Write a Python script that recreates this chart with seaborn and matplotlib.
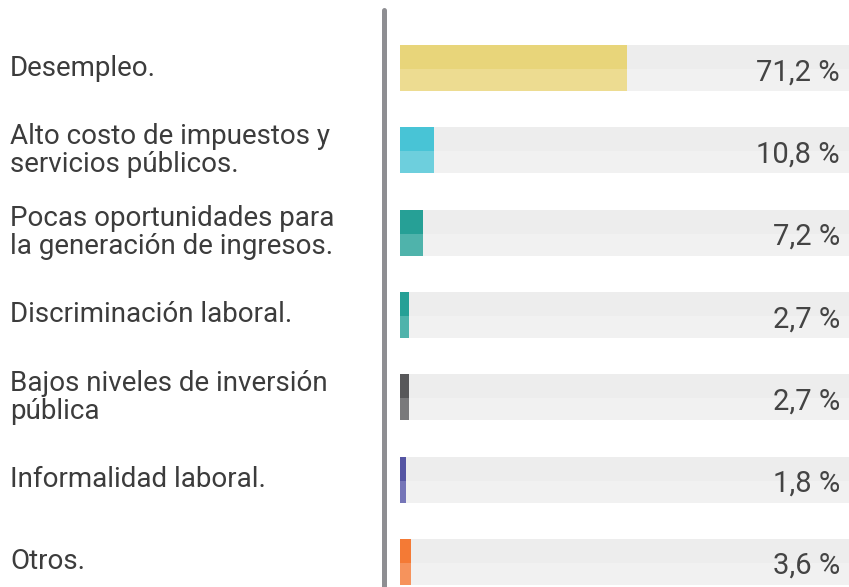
import matplotlib
matplotlib.use("Agg")
import matplotlib.pyplot as plt
import seaborn as sns
import pandas as pd
from matplotlib.lines import Line2D
from matplotlib.transforms import blended_transform_factory

# Datos
causas = [
    "Desempleo.",
    "Alto costo de impuestos y\nservicios públicos.",
    "Pocas oportunidades para\nla generación de ingresos.",
    "Discriminación laboral.",
    "Bajos niveles de inversión\npública",
    "Informalidad laboral.",
    "Otros.",
]
porcentajes = [71.2, 10.8, 7.2, 2.7, 2.7, 1.8, 3.6]
etiquetas = ["71,2 %", "10,8 %", "7,2 %", "2,7 %", "2,7 %", "1,8 %", "3,6 %"]
colores_osc = ["#E8D57A", "#48C4D6", "#26A096", "#26A096", "#58585A", "#5555A3", "#F47A35"]
colores_cla = ["#EDDC91", "#6DCFDD", "#4FB3AB", "#4FB3AB", "#79797B", "#7575B8", "#F6935C"]

sns.set_style("white")
plt.rcParams["font.family"] = ["Roboto", "DejaVu Sans"]

df = pd.DataFrame({"causa": causas, "pct": porcentajes})
xmax = 140.8
alto = 0.56
n = len(causas)

fig = plt.figure(figsize=(8.49, 5.87), dpi=100)
ax = fig.add_axes([400 / 849, 0, 449 / 849, 1])

# fondo gris de cada fila
df["fondo"] = xmax
sns.barplot(data=df, y="causa", x="fondo", orient="h", color="#F1F1F1",
            width=alto, ax=ax, saturation=1, linewidth=0)
ax.barh([i - alto / 2 for i in range(n)], [xmax] * n, height=alto * 0.52,
        align="edge", color="#EDEDED", linewidth=0)

# barras (mitad inferior clara, mitad superior oscura)
sns.barplot(data=df, y="causa", x="pct", orient="h", hue="causa",
            palette=colores_cla, width=alto, ax=ax, saturation=1, legend=False,
            linewidth=0)
ax.barh([i - alto / 2 for i in range(n)], porcentajes, height=alto * 0.52,
        align="edge", color=colores_osc, linewidth=0)

ax.set_xlim(0, xmax)
ax.set_ylim(6.304, -0.826)
ax.axis("off")

trans = blended_transform_factory(ax.transAxes, ax.transData)
for i, (causa, etq) in enumerate(zip(causas, etiquetas)):
    ax.text((10 - 400) / 449, i, causa, transform=trans, ha="left", va="center",
            fontsize=20, color="#3c3c3c", linespacing=1.05, clip_on=False)
    ax.text((840 - 400) / 449, i + 0.05, etq, transform=trans, ha="right", va="center",
            fontsize=21, color="#444444")

# línea vertical separadora
fig.add_artist(Line2D([383.5 / 849, 383.5 / 849], [0, 1 - 10 / 587],
                      transform=fig.transFigure, color="#8E8E92", linewidth=3.6))

fig.savefig("out.png", dpi=100)
